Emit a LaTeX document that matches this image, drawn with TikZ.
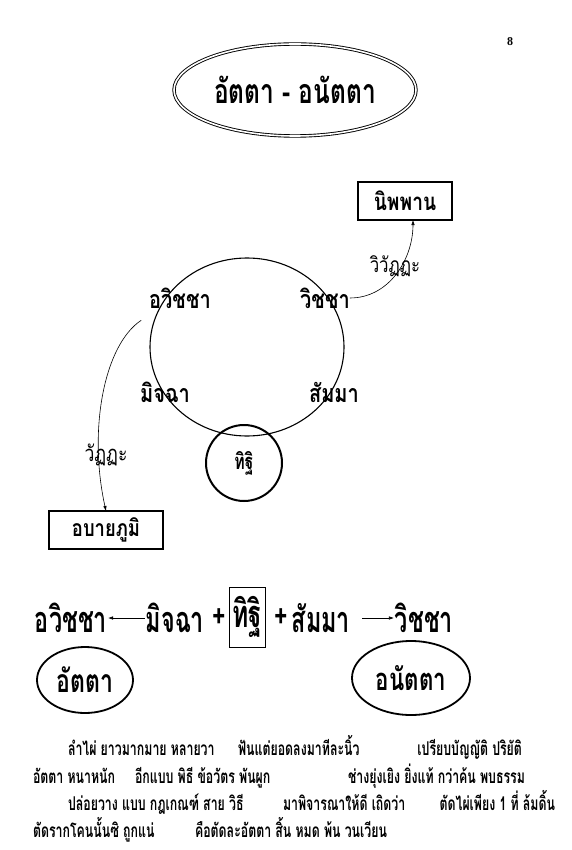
\documentclass[tikz,border=0pt]{standalone}
\usepackage{fontspec}
\setmainfont{Liberation Serif}
\newfontfamily\thai[Script=Thai,FakeStretch=0.72]{Loma}
\newfontfamily\thaiW[Script=Thai,FakeStretch=0.8]{Loma}
\newfontfamily\thaiC[Script=Thai,FakeStretch=0.65]{Loma}
\usetikzlibrary{arrows.meta,shapes.geometric}
\tikzset{
  th/.style={font=\thai\bfseries\fontsize{#1}{#1}\selectfont},
  tl/.style={font=\thaiW\bfseries\fontsize{#1}{#1}\selectfont},
  tn/.style={font=\thaiW\fontsize{#1}{#1}\selectfont},
  tc/.style={font=\thaiC\bfseries\fontsize{#1}{#1}\selectfont},
  box/.style={draw,line width=2pt,minimum width=#1,minimum height=38pt},
  arr/.style={-{Latex[length=5pt,width=3.5pt]},line width=0.6pt},
  para/.style={tc=19,anchor=base west},
  parae/.style={tc=19,anchor=base east},
}
\begin{document}
\begin{tikzpicture}[x=1pt,y=-1pt,every node/.style={inner sep=0pt,outer sep=0pt}]
\useasboundingbox[fill=white] (0,0) rectangle (571,850);
\node[font=\bfseries\fontsize{12}{12}\selectfont] (pg) at (510,42) {8};
% title
\node[draw,ellipse,double,double distance=1.6pt,line width=0.9pt,
  minimum width=242pt,minimum height=92pt,th=34] (title) at (295,90) {อัตตา - อนัตตา};
% top diagram
\node[box=94pt,tl=24] (nib) at (405,201) {นิพพาน};
\node[draw,ellipse,line width=1.1pt,minimum width=194pt,minimum height=178pt] (wheel) at (247,347) {};
\node[draw,circle,line width=2pt,minimum size=76pt,th=22] (dit) at (244,463) {ทิฐิ};
\node[tl=25] (avi) at (180,298) {อวิชชา};
\node[tl=25] (vic) at (325,298) {วิชชา};
\node[tl=25] (mic) at (165,392) {มิจฉา};
\node[tl=25] (sam) at (334,392) {สัมมา};
\node[tn=21] (vivat) at (395,266) {วิวัฏฏะ};
\node[tn=22] (vat) at (106,455) {วัฏฏะ};
\node[box=114pt,tl=23] (apa) at (106,530) {อบายภูมิ};
\draw[arr] (vic.east) to[out=0,in=270] ([xshift=8pt]nib.south);
\draw[arr] ([xshift=-8pt,yshift=-12pt]avi.south west) .. controls (104,345) and (88,430) .. (apa.north);
% equation
\node[tc=36] (e1) at (71,618) {อวิชชา};
\node[tc=36] (e2) at (175,618) {มิจฉา};
\node[th=32] (p1) at (219,618) {+};
\node[draw,line width=0.6pt,minimum width=36pt,minimum height=60pt,tc=38] (e3) at (247,617) {ทิฐิ};
\node[th=32] (p2) at (281,618) {+};
\node[tc=36] (e4) at (321,618) {สัมมา};
\node[tc=36] (e5) at (424,618) {วิชชา};
\draw[arr] ([xshift=-1pt]e2.west) -- ([xshift=1pt]e1.east);
\draw[arr] ([xshift=12pt]e4.east) -- ([xshift=-1pt]e5.west);
\node[draw,ellipse,line width=1.8pt,minimum width=96pt,minimum height=66pt,th=32] (atta) at (85,680) {อัตตา};
\node[draw,ellipse,line width=1.8pt,minimum width=118pt,minimum height=74pt,th=31] (anatta) at (411,678) {อนัตตา};
% paragraph
\node[para] (a1) at (68,755) {ลำไผ่ ยาวมากมาย หลายวา};
\node[para] (a2) at (238,755) {ฟันแต่ยอดลงมาทีละนิ้ว};
\node[parae] (a3) at (522,755) {เปรียบบัญญัติ ปริยัติ};
\node[para] (b1) at (33,783) {อัตตา หนาหนัก};
\node[para] (b2) at (135,783) {อีกแบบ พิธี ข้อวัตร พันผูก};
\node[parae] (b3) at (525,783) {ช่างยุ่งเยิง ยิ่งแท้ กว่าค้น พบธรรม};
\node[para] (c1) at (68,810) {ปล่อยวาง แบบ กฎเกณฑ์ สาย วิธี};
\node[para] (c2) at (283,810) {มาพิจารณาให้ดี เถิดว่า};
\node[parae] (c3) at (555,810) {ตัดไผ่เพียง 1 ที่ ล้มดิ้น};
\node[para] (d1) at (33,837) {ตัดรากโคนนั้นซิ ถูกแน่};
\node[para] (d2) at (195,837) {คือตัดละอัตตา สิ้น หมด พ้น วนเวียน};
\end{tikzpicture}
\end{document}
